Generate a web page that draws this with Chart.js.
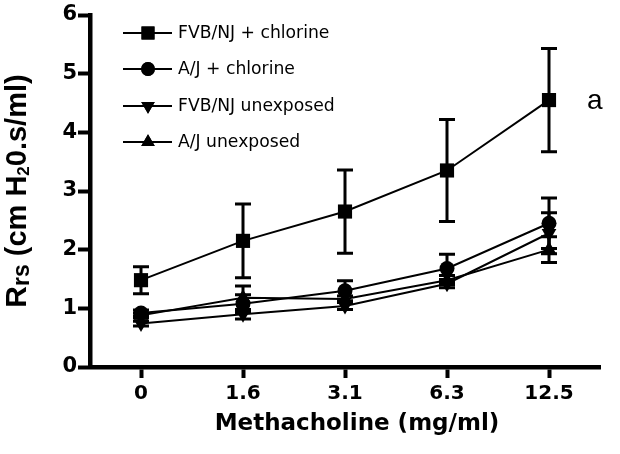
<!DOCTYPE html>
<html>
<head>
<meta charset="utf-8">
<script src="https://cdn.jsdelivr.net/npm/chart.js@4/dist/chart.umd.min.js"></script>
<style>
  html, body { margin: 0; padding: 0; background: #fff; }
  #wrap { width: 620px; height: 454px; }
</style>
</head>
<body>
<div id="wrap"><canvas id="c" width="620" height="454"></canvas></div>
<script>
// ---- data ----
const categories = ['0', '1.6', '3.1', '6.3', '12.5'];
const yTicks = [0, 1, 2, 3, 4, 5, 6];
const seriesNames = ['FVB/NJ + chlorine', 'A/J + chlorine', 'FVB/NJ unexposed', 'A/J unexposed'];
const fvbChlorine = [1.48, 2.15, 2.65, 3.35, 4.55];
const fvbChlorineErr = [0.23, 0.63, 0.71, 0.87, 0.88];
const ajChlorine = [0.92, 1.08, 1.30, 1.68, 2.45];
const ajChlorineErr = [0.05, 0.15, 0.17, 0.24, 0.43];
const fvbUnexposed = [0.74, 0.90, 1.04, 1.42, 2.28];
const fvbUnexposedErr = [0.04, 0.08, 0.06, 0.07, 0.35];
const ajUnexposed = [0.88, 1.18, 1.16, 1.48, 2.00];
const ajUnexposedErr = [0.04, 0.20, 0.05, 0.08, 0.22];
const annotationText = 'a';

const styles = [
  { pointStyle: 'rect', radius: 10, rotation: 0 },
  { pointStyle: 'circle', radius: 7.5, rotation: 0 },
  { pointStyle: 'triangle', radius: 8.5, rotation: 180 },
  { pointStyle: 'triangle', radius: 8.5, rotation: 0 }
];
const values = [fvbChlorine, ajChlorine, fvbUnexposed, ajUnexposed];
const errors = [fvbChlorineErr, ajChlorineErr, fvbUnexposedErr, ajUnexposedErr];

const datasets = values.map((v, i) => ({
  label: seriesNames[i],
  data: v,
  errors: errors[i],
  borderColor: '#000',
  backgroundColor: '#000',
  borderWidth: 2,
  pointStyle: styles[i].pointStyle,
  pointRadius: styles[i].radius,
  pointRotation: styles[i].rotation,
  pointBackgroundColor: '#000',
  pointBorderColor: '#000',
  pointBorderWidth: 0,
  tension: 0,
  fill: false
}));

const errorBarPlugin = {
  id: 'errorBars',
  beforeDatasetsDraw(chart) {
    const ctx = chart.ctx;
    const ys = chart.scales.y;
    ctx.save();
    ctx.strokeStyle = '#000';
    ctx.lineWidth = 3;
    chart.data.datasets.forEach((ds, i) => {
      const meta = chart.getDatasetMeta(i);
      meta.data.forEach((pt, j) => {
        const v = ds.data[j], e = ds.errors[j];
        const x = pt.x;
        const yt = ys.getPixelForValue(v + e);
        const yb = ys.getPixelForValue(v - e);
        ctx.beginPath();
        ctx.moveTo(x, yt); ctx.lineTo(x, yb);
        ctx.moveTo(x - 8, yt); ctx.lineTo(x + 8, yt);
        ctx.moveTo(x - 8, yb); ctx.lineTo(x + 8, yb);
        ctx.stroke();
      });
    });
    ctx.restore();
  }
};

const decorPlugin = {
  id: 'decor',
  afterDraw(chart) {
    const ctx = chart.ctx;
    const area = chart.chartArea;
    const drawPoint = (Chart.helpers && Chart.helpers.drawPoint);
    ctx.save();
    // legend
    const rows = [33, 69, 106, 142];
    chart.data.datasets.forEach((ds, i) => {
      const y = rows[i];
      ctx.strokeStyle = '#000';
      ctx.lineWidth = 2;
      ctx.beginPath();
      ctx.moveTo(123, y); ctx.lineTo(172, y);
      ctx.stroke();
      ctx.fillStyle = '#000';
      if (drawPoint) {
        drawPoint(ctx, { pointStyle: ds.pointStyle, radius: ds.pointRadius * 0.92, rotation: ds.pointRotation, borderWidth: 0 }, 148, y);
        ctx.fill();
      }
      ctx.fillStyle = '#000';
      ctx.font = '17.2px "DejaVu Sans"';
      ctx.textAlign = 'left';
      ctx.textBaseline = 'middle';
      ctx.fillText(ds.label, 178, y + 1);
    });
    // annotation "a" next to last point of first series
    const meta0 = chart.getDatasetMeta(0);
    const last = meta0.data[meta0.data.length - 1];
    ctx.font = '28px "Liberation Sans"';
    ctx.textAlign = 'left';
    ctx.textBaseline = 'middle';
    ctx.fillText(annotationText, last.x + 38, last.y + 1);
    // x title
    ctx.font = 'bold 23px "DejaVu Sans"';
    ctx.textAlign = 'center';
    ctx.textBaseline = 'alphabetic';
    ctx.fillText('Methacholine (mg/ml)', (area.left + area.right) / 2 + 12, 430);
    // y title with subscripts
    const pieces = [
      { t: 'R', s: 30, dy: 0 },
      { t: 'rs', s: 23, dy: 3 },
      { t: ' (cm H', s: 29, dy: 0 },
      { t: '2', s: 17, dy: 3 },
      { t: '0.s/ml)', s: 29, dy: 0 }
    ];
    let total = 0;
    pieces.forEach(p => { ctx.font = 'bold ' + p.s + 'px "Liberation Sans"'; p.w = ctx.measureText(p.t).width; total += p.w; });
    ctx.translate(26, (area.top + area.bottom) / 2);
    ctx.rotate(-Math.PI / 2);
    ctx.textAlign = 'left';
    ctx.textBaseline = 'alphabetic';
    let x = -total / 2;
    pieces.forEach(p => {
      ctx.font = 'bold ' + p.s + 'px "Liberation Sans"';
      ctx.fillText(p.t, x, p.dy);
      x += p.w;
    });
    ctx.restore();
  }
};

Chart.defaults.font.family = '"DejaVu Sans", sans-serif';
Chart.defaults.color = '#000';

new Chart(document.getElementById('c'), {
  type: 'line',
  data: { labels: categories, datasets: datasets },
  options: {
    responsive: false,
    animation: false,
    devicePixelRatio: 1,
    layout: { padding: { top: 15, right: 20, left: 0, bottom: 0 } },
    plugins: { legend: { display: false }, tooltip: { enabled: false } },
    scales: {
      x: {
        type: 'category',
        offset: true,
        grid: { display: true, drawOnChartArea: false, drawTicks: true, tickLength: 11, tickWidth: 4, tickColor: '#000', offset: false },
        border: { display: true, width: 4.5, color: '#000' },
        ticks: { font: { family: '"DejaVu Sans"', size: 20, weight: 'bold' }, color: '#000', padding: 4, maxRotation: 0 },
        afterFit(scale) { scale.height = 87; }
      },
      y: {
        type: 'linear',
        min: 0,
        max: 6,
        afterBuildTicks(scale) { scale.ticks = yTicks.map(v => ({ value: v })); },
        grid: { display: true, drawOnChartArea: false, drawTicks: true, tickLength: 12, tickWidth: 4, tickColor: '#000' },
        border: { display: true, width: 4.5, color: '#000' },
        ticks: { font: { family: '"DejaVu Sans"', size: 21, weight: 'bold' }, color: '#000', padding: 1 },
        afterFit(scale) { scale.width = 90; }
      }
    }
  },
  plugins: [errorBarPlugin, decorPlugin]
});
</script>
</body>
</html>
